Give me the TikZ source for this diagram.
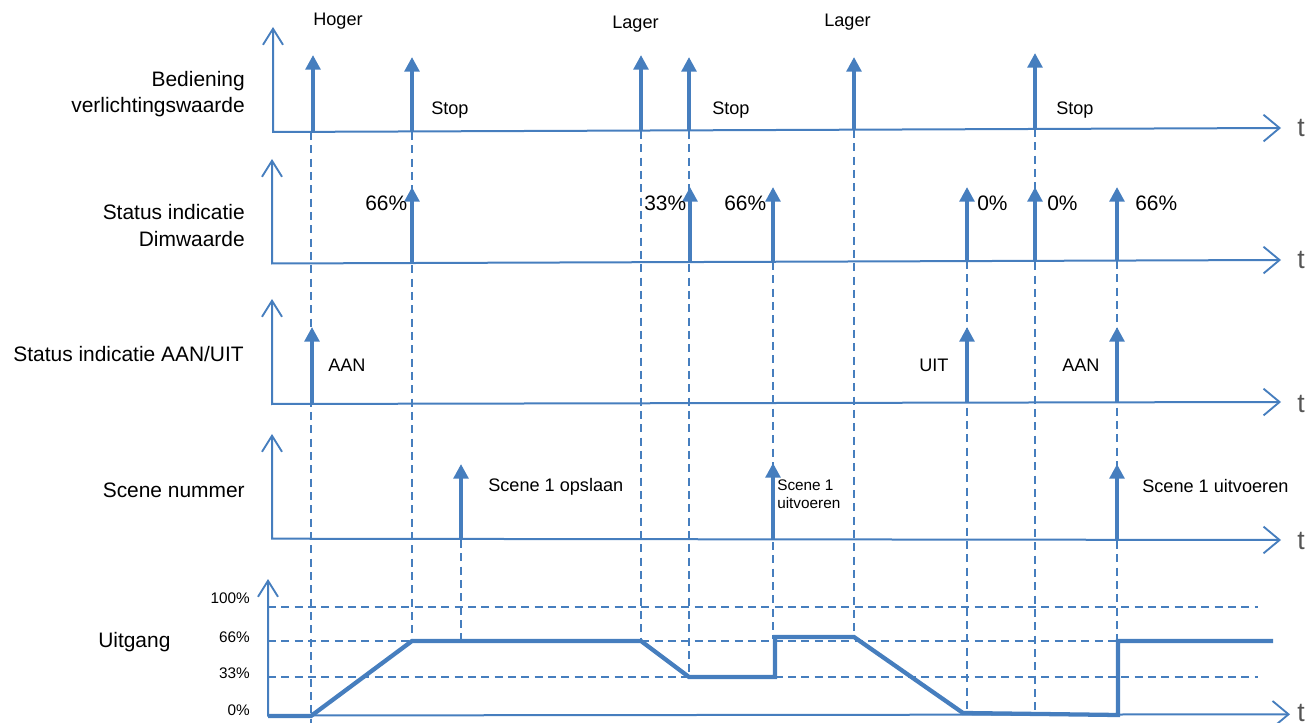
\documentclass[tikz,border=0pt]{standalone}
\usepackage{fontspec}
\setmainfont{Liberation Sans}
\usetikzlibrary{arrows.meta}
\definecolor{wblue}{RGB}{70,126,190}
\definecolor{tgray}{RGB}{85,85,85}
\newcommand\fbig{\fontsize{15.7}{19}\selectfont}
\newcommand\fmid{\fontsize{13.6}{16}\selectfont}
\newcommand\fsml{\fontsize{11.5}{13.5}\selectfont}
\newcommand\ftee{\fontsize{20}{24}\selectfont}
\tikzset{
  axisline/.style={draw=wblue,line width=1.5pt,
    {Straight Barb[length=12pt,width=15pt,line width=1.4pt]}-{Straight Barb[length=12pt,width=20pt,line width=1.4pt]}},
  evt/.style={draw=wblue,line width=3pt,-{Triangle[length=11pt,width=11pt]}},
  dsh/.style={draw=wblue,line width=1.3pt,dash pattern=on 6pt off 4pt},
  outp/.style={draw=wblue,line width=3.2pt,line join=miter},
  lbl/.style={inner sep=0pt,text=black},
  tlbl/.style={inner sep=0pt,text=tgray,anchor=base west,font=\ftee},
}
\begin{document}
\begin{tikzpicture}[x=0.75pt,y=-0.75pt]
\useasboundingbox (0,0) rectangle (1310,723);

% ---- vertical dashed guide lines
\draw[dsh] (311,132) -- (311,723);
\draw[dsh] (412,132) -- (412,641);
\draw[dsh] (461,540) -- (461,641);
\draw[dsh] (641,131) -- (641,641);
\draw[dsh] (689,131) -- (689,677);
\draw[dsh] (773,262) -- (773,639);
\draw[dsh] (854,130) -- (854,639);
\draw[dsh] (967,261) -- (967,713);
\draw[dsh] (1035,129) -- (1035,714);
\draw[dsh] (1117,261) -- (1117,641);

% ---- horizontal dashed levels of the output panel
\draw[dsh] (268,607) -- (1258,607);
\draw[dsh] (268,641) -- (1258,641);
\draw[dsh] (268,677) -- (1258,677);

% ---- axes
\draw[axisline] (273,27) -- (273,132) -- (1281,128);
\draw[axisline] (272,159) -- (272,263.5) -- (1281,260);
\draw[axisline] (272,299) -- (272,404) -- (1281,402);
\draw[axisline] (272,434) -- (272,538.7) -- (1281,540);
\draw[axisline] (268,579) -- (268,715.5) -- (1290,714.3);

% ---- t labels
\node[tlbl] (t1) at (1297,137) {t};
\node[tlbl] (t2) at (1297,269) {t};
\node[tlbl] (t3) at (1297,412) {t};
\node[tlbl] (t4) at (1297,549) {t};
\node[tlbl] (t5) at (1297,721) {t};

% ---- panel 1: Bediening verlichtingswaarde
\draw[evt] (313,131.5) -- (313,55);
\draw[evt] (412,131) -- (412,57);
\draw[evt] (641,131) -- (641,55);
\draw[evt] (689,131) -- (689,57);
\draw[evt] (854,130) -- (854,57);
\draw[evt] (1035,129) -- (1035,53);

% ---- panel 2: Status indicatie Dimwaarde
\draw[evt] (412,263) -- (412,187);
\draw[evt] (690,262) -- (690,187);
\draw[evt] (773,262) -- (773,187);
\draw[evt] (967,261) -- (967,187);
\draw[evt] (1035,261) -- (1035,187);
\draw[evt] (1117,260.5) -- (1117,187);

% ---- panel 3: Status indicatie AAN/UIT
\draw[evt] (312,404) -- (312,327);
\draw[evt] (967,402.5) -- (967,327);
\draw[evt] (1117,402.3) -- (1117,327);

% ---- panel 4: Scene nummer
\draw[evt] (461,539) -- (461,464);
\draw[evt] (773,539.5) -- (773,463);
\draw[evt] (1117,539.8) -- (1117,464);

% ---- output waveform
\draw[outp] (268,716) -- (311,716) -- (412,641) -- (641,641) -- (689,677)
  -- (775,677) -- (775,637) -- (854,637) -- (963,713) -- (1118,715)
  -- (1118,641) -- (1273,641);

% ---- left labels
\node[lbl,anchor=base east,font=\fbig] (l1a) at (245,87) {Bediening};
\node[lbl,anchor=base east,font=\fbig] (l1b) at (245,113) {verlichtingswaarde};
\node[lbl,anchor=base east,font=\fbig] (l2a) at (245,220) {Status indicatie};
\node[lbl,anchor=base east,font=\fbig] (l2b) at (245,247) {Dimwaarde};
\node[lbl,anchor=base east,font=\fbig] (l3) at (244,362) {Status indicatie AAN/UIT};
\node[lbl,anchor=base east,font=\fbig] (l4) at (245,497) {Scene nummer};
\node[lbl,anchor=base west,font=\fbig] (l5) at (98,647) {Uitgang};

% ---- level labels
\node[lbl,anchor=base east,font=\fsml] (p100) at (250,603) {100\%};
\node[lbl,anchor=base east,font=\fsml] (p66) at (250,642) {66\%};
\node[lbl,anchor=base east,font=\fsml] (p33) at (250,678) {33\%};
\node[lbl,anchor=base east,font=\fsml] (p0) at (250,715) {0\%};

% ---- panel 1 labels
\node[lbl,anchor=base west,font=\fmid] (hoger) at (313,26) {Hoger};
\node[lbl,anchor=base west,font=\fmid] (lager1) at (612,29) {Lager};
\node[lbl,anchor=base west,font=\fmid] (lager2) at (824,27) {Lager};
\node[lbl,anchor=base west,font=\fmid] (stop1) at (431,115) {Stop};
\node[lbl,anchor=base west,font=\fmid] (stop2) at (712,115) {Stop};
\node[lbl,anchor=base west,font=\fmid] (stop3) at (1056,115) {Stop};

% ---- panel 2 labels
\node[lbl,anchor=base west,font=\fbig] (d1) at (365,211) {66\%};
\node[lbl,anchor=base west,font=\fbig] (d2) at (644,211) {33\%};
\node[lbl,anchor=base west,font=\fbig] (d3) at (724,211) {66\%};
\node[lbl,anchor=base west,font=\fbig] (d4) at (977,211) {0\%};
\node[lbl,anchor=base west,font=\fbig] (d5) at (1047,211) {0\%};
\node[lbl,anchor=base west,font=\fbig] (d6) at (1135,211) {66\%};

% ---- panel 3 labels
\node[lbl,anchor=base west,font=\fmid] (aan1) at (328,372) {AAN};
\node[lbl,anchor=base west,font=\fmid] (uit) at (919,372) {UIT};
\node[lbl,anchor=base west,font=\fmid] (aan2) at (1062,372) {AAN};

% ---- panel 4 labels
\node[lbl,anchor=base west,font=\fmid] (sc1) at (488,491) {Scene 1 opslaan};
\node[lbl,anchor=base west,font=\fsml] (sc2a) at (777,490) {Scene 1};
\node[lbl,anchor=base west,font=\fsml] (sc2b) at (777,508) {uitvoeren};
\node[lbl,anchor=base west,font=\fmid] (sc3) at (1142,492) {Scene 1 uitvoeren};
\end{tikzpicture}
\end{document}
